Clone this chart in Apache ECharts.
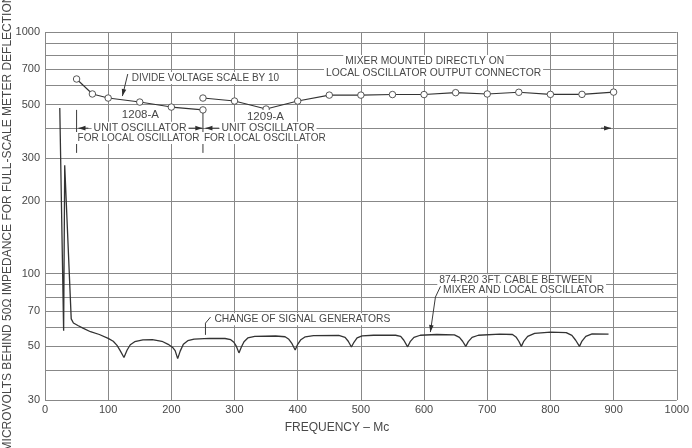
<!DOCTYPE html>
<html><head><meta charset="utf-8">
<script src="https://cdn.jsdelivr.net/npm/echarts@6/dist/echarts.min.js"></script>
<style>html,body{margin:0;padding:0;background:#fff}#c{width:692px;height:448px}</style>
</head><body><div id="c"></div>
<script>
// ---- data ----
const xTickStep = 100;
const yLabelValues = [30, 50, 70, 100, 200, 300, 500, 700, 1000];
const yGridValues = [30, 40, 50, 60, 70, 80, 90, 100, 200, 300, 400, 500, 600, 700, 800, 900, 1000];

// upper curve, 1208-A unit oscillator (voltage scale divided by 10)
const unit1208 = [[50, 639], [75, 554], [100, 533], [150, 513], [200, 489], [250, 476]];
// upper curve, 1209-A unit oscillator / mixer mounted on output connector
const unit1209 = [[250, 533], [300, 518], [350, 480], [400, 518], [450, 548], [500, 548], [550, 551],
  [600, 551], [650, 561], [700, 554], [750, 563], [800, 552], [850, 552], [900, 564]];
// lower curve, 874-R20 3 ft cable between mixer and local oscillator
const cableCurve = [[23.4, 485], [29.5, 58], [30.5, 58], [31.2, 281], [41.5, 65], [45, 62.5], [52, 61],
  [60, 59.5], [72, 57.5], [86, 56], [100, 54], [108, 52.5], [114, 50.5], [119, 48], [125, 45], [130, 48.3],
  [135, 50.8], [142, 52.3], [155, 53.2], [170, 53.3], [185, 52.5], [195, 51], [202, 49.5], [206, 48],
  [210, 44.5], [214, 47.8], [219, 51], [226, 52.8], [236, 53.6], [260, 54], [285, 53.9], [294, 53.3],
  [299, 52], [303, 50], [307, 47], [311, 49.8], [315, 52.3], [321, 54.2], [332, 55], [365, 55.2],
  [380, 54.8], [386, 53.5], [391, 51.3], [396, 48.3], [400, 51], [405, 53.3], [412, 54.8], [425, 55.4],
  [465, 55.5], [475, 54.5], [480, 52.5], [485, 49.7], [489, 52], [494, 54.2], [502, 55.3], [520, 55.6],
  [555, 55.6], [563, 55], [568, 53], [574, 49.8], [578, 52.3], [584, 54.5], [594, 55.6], [620, 56],
  [648, 55.8], [656, 54.5], [661, 52.5], [666, 50], [670, 52.3], [676, 54.5], [686, 55.6], [720, 56.2],
  [740, 56], [746, 54.5], [750, 52.5], [754, 50], [758, 52.6], [764, 55], [775, 56.6], [800, 57.3],
  [825, 57], [834, 55.5], [840, 53], [846, 50], [850, 52.6], [856, 55], [866, 56.3], [892, 56.2]];

// ---- styling ----
const FONT = '"Liberation Sans", Arial, sans-serif';
const TXT = '#484848', GRID = '#888', LINE = '#333';

const chart = echarts.init(document.getElementById('c'), null, {renderer: 'canvas'});
chart.setOption({
  animation: false,
  backgroundColor: '#fff',
  grid: {left: 45, right: 6, top: 32, bottom: 48},
  xAxis: {
    type: 'value', min: 0, max: 1000, interval: xTickStep,
    axisLine: {show: false}, axisTick: {show: false},
    splitLine: {show: true, lineStyle: {color: GRID, width: 1}},
    axisLabel: {color: TXT, fontFamily: FONT, fontSize: 11, margin: 4, showMaxLabel: true, showMinLabel: true,
      formatter: v => String(v)}
  },
  yAxis: {
    type: 'log', logBase: 10, min: 30, max: 1000,
    axisLine: {show: false},
    axisTick: {show: false, customValues: yGridValues},
    splitLine: {show: true, lineStyle: {color: GRID, width: 1}},
    axisLabel: {customValues: yLabelValues, color: TXT, fontFamily: FONT, fontSize: 11, margin: 5,
      formatter: v => String(Math.round(v))}
  },
  series: [
    {type: 'line', data: unit1208, symbol: 'circle', symbolSize: 6.5, z: 3,
      lineStyle: {color: LINE, width: 1.1}, itemStyle: {color: '#fff', borderColor: '#444', borderWidth: 0.9}},
    {type: 'line', data: unit1209, symbol: 'circle', symbolSize: 6.5, z: 3,
      lineStyle: {color: LINE, width: 1.1}, itemStyle: {color: '#fff', borderColor: '#444', borderWidth: 0.9}},
    {type: 'line', data: cableCurve, showSymbol: false, symbol: 'none', smooth: false, z: 3,
      lineStyle: {color: LINE, width: 1.3}}
  ]
});

// ---- annotations, positioned in data coordinates ----
const labels = [
  {t: 'DIVIDE VOLTAGE SCALE BY 10', at: [134, 645], align: 'left', size: 10},
  {t: '1208-A', at: [151, 453], align: 'center', size: 11.5},
  {t: 'UNIT OSCILLATOR', at: [150.5, 400], align: 'center', size: 10.5},
  {t: 'FOR LOCAL OSCILLATOR', at: [148, 364], align: 'center', size: 10},
  {t: '1209-A', at: [349, 445], align: 'center', size: 11.5},
  {t: 'UNIT OSCILLATOR', at: [353, 400], align: 'center', size: 10.5},
  {t: 'FOR LOCAL OSCILLATOR', at: [348, 364], align: 'center', size: 10},
  {t: 'MIXER MOUNTED DIRECTLY ON', at: [601, 759], align: 'center', size: 10.3},
  {t: 'LOCAL OSCILLATOR OUTPUT CONNECTOR', at: [615, 677], align: 'center', size: 10.3},
  {t: 'CHANGE OF SIGNAL GENERATORS', at: [265, 64.8], align: 'left', size: 10.3},
  {t: '874-R20 3FT. CABLE BETWEEN', at: [621, 93.8], align: 'left', size: 10.3},
  {t: 'MIXER AND LOCAL OSCILLATOR', at: [627, 85.8], align: 'left', size: 10.3}
];
const leaders = [
  {pts: [[131, 670], [122.5, 543]], arrow: true},
  {pts: [[262, 66.1], [254, 62.4], [254, 55.8]], arrow: false},
  {pts: [[627, 89.7], [618, 80], [610, 57.3]], arrow: true},
  {pts: [[50, 476], [50, 316]], arrow: false},
  {pts: [[250, 462], [250, 316]], arrow: false},
  {pts: [[68.6, 400], [53, 400]], arrow: true},
  {pts: [[226, 400], [249, 400]], arrow: true},
  {pts: [[276, 400], [254, 400]], arrow: true},
  {pts: [[325, 400], [335, 400]], arrow: false},
  {pts: [[880, 400], [896, 400]], arrow: true}
];

const P = (x, v) => chart.convertToPixel({gridIndex: 0}, [x, v]);
const g = [];
leaders.forEach(l => {
  const pts = l.pts.map(p => P(p[0], p[1]));
  g.push({type: 'polyline', silent: true, z: 20, shape: {points: pts},
    style: {stroke: '#3a3a3a', lineWidth: 1, fill: null}});
  if (l.arrow) {
    const tip = pts[pts.length - 1], tail = pts[pts.length - 2];
    const dx = tip[0] - tail[0], dy = tip[1] - tail[1], len = Math.hypot(dx, dy);
    const ux = dx / len, uy = dy / len, L = 7, W = 2.3;
    const bx = tip[0] - ux * L, by = tip[1] - uy * L;
    g.push({type: 'polygon', silent: true, z: 21,
      shape: {points: [tip, [bx - uy * W, by + ux * W], [bx + uy * W, by - ux * W]]},
      style: {fill: '#2e2e2e'}});
  }
});
labels.forEach(l => {
  const p = P(l.at[0], l.at[1]);
  g.push({type: 'text', silent: true, z: 22, x: p[0], y: p[1],
    style: {text: l.t, fill: TXT, font: l.size + 'px ' + FONT, align: l.align, verticalAlign: 'middle',
      backgroundColor: '#fff', padding: [1, 2]}});
});
// axis titles
g.push({type: 'text', silent: true, z: 22, x: 337, y: 428,
  style: {text: 'FREQUENCY – Mc', fill: TXT, font: '12px ' + FONT, align: 'center', verticalAlign: 'middle'}});
g.push({type: 'text', silent: true, z: 22, x: 8, y: 223, rotation: Math.PI / 2,
  style: {text: 'MICROVOLTS BEHIND 50Ω IMPEDANCE FOR FULL-SCALE METER DEFLECTION', fill: TXT,
    font: '12px ' + FONT, align: 'center', verticalAlign: 'middle'}});
chart.setOption({graphic: g});
</script></body></html>
